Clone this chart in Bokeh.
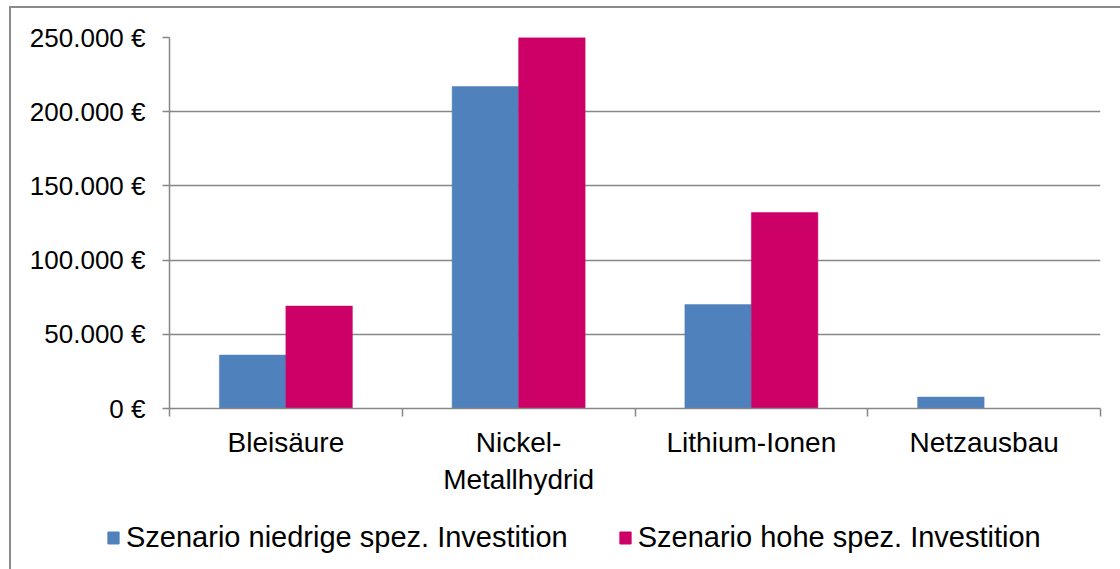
from bokeh.plotting import figure
from bokeh.layouts import column
from bokeh.models import (ColumnDataSource, Range1d, FixedTicker, Legend, LegendItem)
from bokeh.transform import dodge
from bokeh.embed import file_html
from bokeh.resources import INLINE

categories = ["Bleisäure", "Nickel-\nMetallhydrid", "Lithium-Ionen", "Netzausbau"]
niedrig = [36000, 217000, 70000, 7700]
hoch = [69000, 250000, 132000, 0]
series_names = ["Szenario niedrige spez. Investition", "Szenario hohe spez. Investition"]
y_ticks = [0, 50000, 100000, 150000, 200000, 250000]
y_tick_labels = ["0 €", "50.000 €", "100.000 €", "150.000 €", "200.000 €", "250.000 €"]

BLUE = "#4F81BD"
PINK = "#CC0066"
GRID = "#878787"
FONT = "Liberation Sans"

centers = [i + 0.5 for i in range(len(categories))]
src = ColumnDataSource(dict(x=centers, niedrig=niedrig, hoch=hoch))

p = figure(width=1109, height=492, output_backend="svg", toolbar_location=None,
           x_range=Range1d(0, len(categories)), y_range=Range1d(0, 250000),
           min_border_left=158, min_border_right=20, min_border_top=29, min_border_bottom=92)
p.frame_align = False
p.outline_line_color = None
p.background_fill_color = "white"
p.border_fill_color = "white"

w = 0.2857
r1 = p.vbar(x=dodge("x", -w / 2), top="niedrig", width=w, source=src,
            fill_color=BLUE, line_color=BLUE, line_width=0.5)
r2 = p.vbar(x=dodge("x", w / 2), top="hoch", width=w, source=src,
            fill_color=PINK, line_color=PINK, line_width=0.5)

# grid
p.xgrid.visible = False
p.ygrid.ticker = FixedTicker(ticks=y_ticks[1:])
p.ygrid.grid_line_color = GRID
p.ygrid.grid_line_width = 1.5

# y axis
ya = p.yaxis[0]
ya.ticker = FixedTicker(ticks=y_ticks)
ya.major_label_overrides = {t: l for t, l in zip(y_ticks, y_tick_labels)}
ya.axis_line_color = GRID
ya.axis_line_width = 1.5
ya.major_tick_line_color = GRID
ya.major_tick_line_width = 1.5
ya.major_tick_out = 7
ya.major_tick_in = 0
ya.minor_tick_line_color = None
ya.major_label_text_font = FONT
ya.major_label_text_font_size = "26px"
ya.major_label_text_color = "black"
ya.major_label_standoff = 17

# x axis
xa = p.xaxis[0]
xa.ticker = FixedTicker(ticks=centers, minor_ticks=list(range(len(categories) + 1)))
xa.major_label_overrides = {c: l for c, l in zip(centers, categories)}
xa.axis_line_color = GRID
xa.axis_line_width = 1.5
xa.major_tick_line_color = None
xa.major_tick_out = 0
xa.major_tick_in = 0
xa.minor_tick_line_color = GRID
xa.minor_tick_line_width = 1.5
xa.minor_tick_out = 8
xa.minor_tick_in = 0
xa.major_label_text_font = FONT
xa.major_label_text_font_size = "28px"
xa.major_label_text_color = "black"
xa.major_label_standoff = 10

# legend figure below
pl = figure(width=1109, height=69, output_backend="svg", toolbar_location=None,
            x_range=Range1d(0, 1), y_range=Range1d(0, 1),
            x_axis_type=None, y_axis_type=None,
            min_border_left=0, min_border_right=0, min_border_top=0, min_border_bottom=0)
pl.frame_align = False
pl.grid.visible = False
pl.outline_line_color = None
pl.background_fill_color = "white"
pl.border_fill_color = "white"
offscreen = ColumnDataSource(dict(x=[5], top=[5]))
l1 = pl.vbar(x="x", top="top", bottom=4, width=0.1, source=offscreen,
             fill_color=BLUE, line_color=BLUE)
l2 = pl.vbar(x="x", top="top", bottom=4, width=0.1, source=offscreen,
             fill_color=PINK, line_color=PINK)

legend = Legend(items=[LegendItem(label=series_names[0], renderers=[l1]),
                       LegendItem(label=series_names[1], renderers=[l2])],
                orientation="horizontal", location=(95, 15))
legend.border_line_color = None
legend.background_fill_alpha = 0
legend.padding = 0
legend.margin = 0
legend.spacing = 50
legend.glyph_width = 14
legend.glyph_height = 15
legend.label_standoff = 6
legend.label_text_font = FONT
legend.label_text_font_size = "29px"
legend.label_text_color = "black"
legend.label_height = 34
pl.add_layout(legend, "center")

layout = column(p, pl, spacing=0)
layout.styles = {"border-top": "2px solid #8a8a8a", "border-left": "2px solid #8a8a8a",
                 "margin-left": "9px", "margin-top": "6px"}

open("out.html", "w").write(file_html(layout, INLINE))
